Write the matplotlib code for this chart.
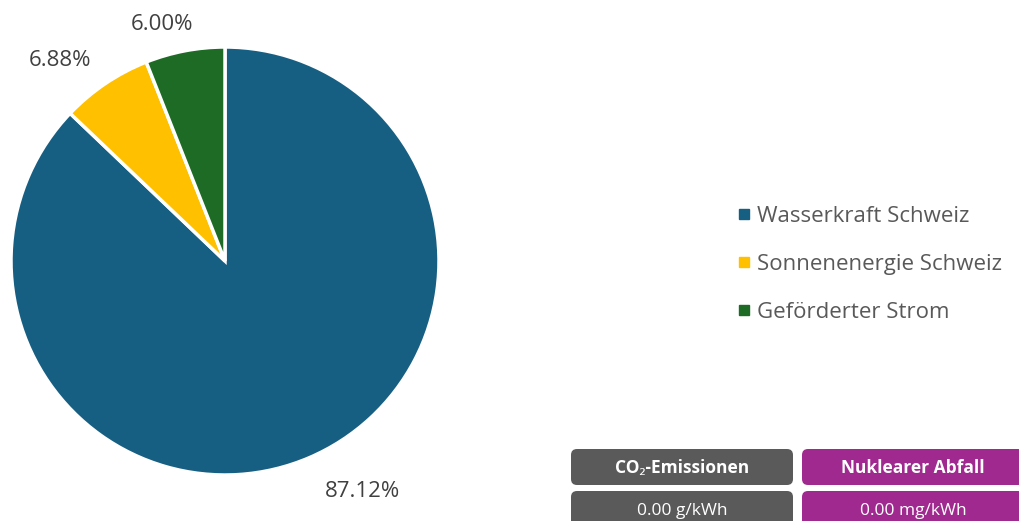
import numpy as np
import matplotlib.pyplot as plt
from matplotlib.patches import FancyBboxPatch
from matplotlib.lines import Line2D

plt.rcParams['font.family'] = ['Open Sans', 'Noto Sans', 'DejaVu Sans']

categories = ["Wasserkraft Schweiz", "Sonnenenergie Schweiz", "Geförderter Strom"]
shares = [87.12, 6.88, 6.00]
colors = ["#175f82", "#ffc000", "#1d6b24"]

box_titles = ["CO\u2082-Emissionen", "Nuklearer Abfall"]
box_values = ["0.00 g/kWh", "0.00 mg/kWh"]
box_colors = ["#5a5a5a", "#a0298f"]

W, H = 1019, 521
fig = plt.figure(figsize=(W / 100, H / 100), dpi=100)

# pie axes, centre ~ (225, 261) px, radius ~ 214 px
cx, cy, r = 225, 261, 214
ax = fig.add_axes([(cx - r) / W, (H - cy - r) / H, 2 * r / W, 2 * r / H])
wedges, _ = ax.pie(shares, colors=colors, startangle=90, counterclock=False,
                   radius=1, wedgeprops=dict(edgecolor="white", linewidth=2.5))
ax.set_xlim(-1, 1)
ax.set_ylim(-1, 1)
ax.set_aspect("equal")
ax.axis("off")

# percentage labels outside the slices
label_tweak = [(7.5, 1.255), (5.5, 1.215), (4, 1.145)]  # (angle shift deg, radius)
start = 90.0
for val, (dang, rad) in zip(shares, label_tweak):
    span = val / 100 * 360
    mid = np.deg2rad(start - span / 2 + dang)
    start -= span
    ax.text(rad * np.cos(mid), rad * np.sin(mid), f"{val:.2f}%",
            ha="center", va="center", fontsize=16, color="#404040")

# overlay axes in pixel coords
ov = fig.add_axes([0, 0, 1, 1], zorder=-1)
ov.set_xlim(0, W)
ov.set_ylim(H, 0)
ov.axis("off")

handles = [Line2D([], [], marker="s", linestyle="none", markersize=7.5,
                  markerfacecolor=c, markeredgecolor=c) for c in colors]
fig.legend(handles, categories, loc="center left",
           bbox_to_anchor=(736 / W, 1 - 264.5 / H), frameon=False,
           fontsize=16, labelcolor="#595959", handletextpad=0.25,
           labelspacing=1.22, handlelength=0.7, borderpad=0, borderaxespad=0)

# info boxes at the bottom
xs = [571, 802]
bw = 222
for x0, t, v, c in zip(xs, box_titles, box_values, box_colors):
    ov.add_patch(FancyBboxPatch((x0, 449), bw, 36,
                                boxstyle="round,pad=0,rounding_size=6",
                                facecolor=c, edgecolor="none"))
    ov.add_patch(FancyBboxPatch((x0, 491), bw, 40,
                                boxstyle="round,pad=0,rounding_size=6",
                                facecolor=c, edgecolor="none"))
    ov.text(x0 + bw / 2, 468, t, ha="center", va="center", color="white",
            fontsize=12.5, fontweight="bold")
    ov.text(x0 + bw / 2, 511, v, ha="center", va="center", color="white",
            fontsize=12.5)

fig.savefig("out.png", dpi=100)
